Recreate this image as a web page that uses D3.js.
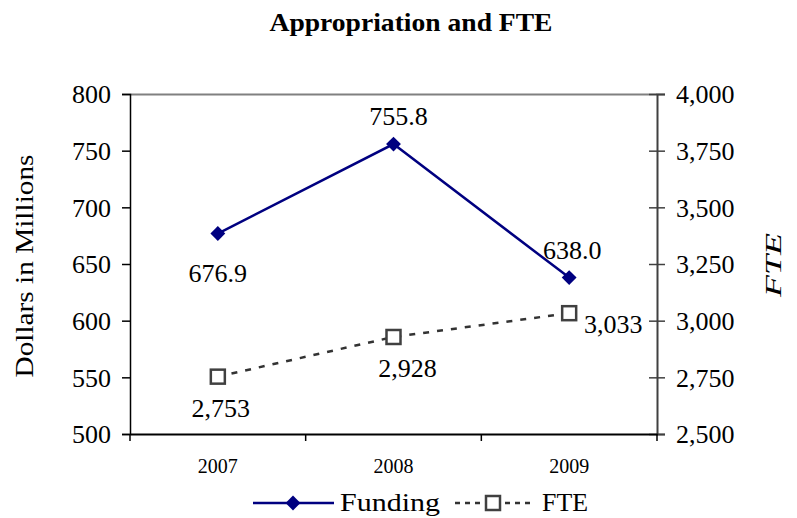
<!DOCTYPE html>
<html><head><meta charset="utf-8">
<script src="https://cdn.jsdelivr.net/npm/d3@7"></script>
<style>
body{margin:0;background:#fff;}
svg{display:block;font-family:"Liberation Serif","Times New Roman",serif;}
</style></head>
<body>
<svg id="c" width="797" height="518"></svg>
<script>
const years = ["2007","2008","2009"];
const funding = [676.9, 755.8, 638.0];
const fte = [2753, 2928, 3033];
const fundingLabels = ["676.9","755.8","638.0"];
const fteLabels = ["2,753","2,928","3,033"];
const leftTicks = [500,550,600,650,700,750,800];
const rightTicks = [2500,2750,3000,3250,3500,3750,4000];

const svg = d3.select("#c");
const L=130,R=657,T=94,B=434;
const x = d3.scaleBand().domain(years).range([L,R]);
const yL = d3.scaleLinear().domain([500,800]).range([B,T]);
const yR = d3.scaleLinear().domain([2500,4000]).range([B,T]);
const cx = d => x(d)+x.bandwidth()/2;

// title
svg.append("text").attr("x",411).attr("y",31).attr("text-anchor","middle")
  .attr("font-weight","bold").attr("font-size",25)
  .attr("textLength",283).attr("lengthAdjust","spacingAndGlyphs")
  .text("Appropriation and FTE");

// top border
svg.append("line").attr("x1",L).attr("x2",R).attr("y1",T+0.5).attr("y2",T+0.5)
  .attr("stroke","#808080").attr("stroke-width",2);

// left axis
const gl = svg.append("g").attr("transform",`translate(${L},0)`)
  .call(d3.axisLeft(yL).tickValues(leftTicks).tickSize(8).tickPadding(11).tickFormat(d3.format("d")));
gl.select(".domain").attr("stroke","#000").attr("stroke-width",1.5);
gl.selectAll(".tick line").attr("stroke","#000").attr("stroke-width",1.5);
gl.selectAll(".tick text").attr("font-size",26).attr("font-family","Liberation Serif").attr("fill","#000").attr("dy","0.34em");

// right axis
const gr = svg.append("g").attr("transform",`translate(${R},0)`)
  .call(d3.axisRight(yR).tickValues(rightTicks).tickSize(8).tickPadding(11).tickFormat(d3.format(",")));
gr.select(".domain").attr("stroke","#404040").attr("stroke-width",2);
gr.selectAll(".tick line").attr("stroke","#404040").attr("stroke-width",1.5).attr("x1",-8);
gr.selectAll(".tick text").attr("font-size",26).attr("font-family","Liberation Serif").attr("fill","#000").attr("dy","0.34em");

// bottom axis
const gb = svg.append("g").attr("transform",`translate(0,${B})`)
  .call(d3.axisBottom(x).tickSize(0).tickPadding(25));
gb.select(".domain").attr("stroke","#000").attr("stroke-width",2);
gb.selectAll(".tick text").attr("font-size",20).attr("font-family","Liberation Serif").attr("fill","#000");
const bounds = years.map(d=>x(d)).concat([R]);
svg.append("g").selectAll("line").data(bounds).join("line")
  .attr("x1",d=>d).attr("x2",d=>d).attr("y1",B).attr("y2",B+7)
  .attr("stroke","#000").attr("stroke-width",1.5);

// axis titles
svg.append("text").attr("transform","translate(33,266) rotate(-90)").attr("text-anchor","middle")
  .attr("font-size",26).attr("textLength",223).attr("lengthAdjust","spacingAndGlyphs")
  .text("Dollars in Millions");
svg.append("text").attr("transform","translate(781,265) rotate(-90)").attr("text-anchor","middle")
  .attr("font-size",24).attr("font-style","italic").attr("textLength",64).attr("lengthAdjust","spacingAndGlyphs")
  .text("FTE");

// FTE line
svg.append("path").datum(fte.map((v,i)=>[cx(years[i]),yR(v)]))
  .attr("d",d3.line()).attr("fill","none").attr("stroke","#333")
  .attr("stroke-width",2.5).attr("stroke-dasharray","6,8");
svg.append("g").selectAll("rect").data(fte).join("rect")
  .attr("x",(d,i)=>cx(years[i])-7).attr("y",d=>yR(d)-7).attr("width",14).attr("height",14)
  .attr("fill","#fff").attr("stroke","#404040").attr("stroke-width",2.5);

// Funding line
svg.append("path").datum(funding.map((v,i)=>[cx(years[i]),yL(v)]))
  .attr("d",d3.line()).attr("fill","none").attr("stroke","#000080").attr("stroke-width",2.5);
svg.append("g").selectAll("path").data(funding).join("path")
  .attr("transform",(d,i)=>`translate(${cx(years[i])},${yL(d)}) rotate(45)`)
  .attr("d",d3.symbol().type(d3.symbolSquare).size(110)).attr("fill","#000080");

// data labels
const fOff = [[0,48],[5,-19],[3,-19]];
svg.append("g").selectAll("text").data(funding).join("text")
  .attr("x",(d,i)=>cx(years[i])+fOff[i][0]).attr("y",(d,i)=>yL(d)+fOff[i][1])
  .attr("text-anchor","middle").attr("font-size",26).text((d,i)=>fundingLabels[i]);
const tOff = [[3,40],[14,40],[44,20]];
svg.append("g").selectAll("text").data(fte).join("text")
  .attr("x",(d,i)=>cx(years[i])+tOff[i][0]).attr("y",(d,i)=>yR(d)+tOff[i][1])
  .attr("text-anchor","middle").attr("font-size",26).text((d,i)=>fteLabels[i]);

// legend
const lg = svg.append("g");
lg.append("line").attr("x1",253).attr("x2",334).attr("y1",503).attr("y2",503)
  .attr("stroke","#000080").attr("stroke-width",2.5);
lg.append("path").attr("transform","translate(293,503) rotate(45)")
  .attr("d",d3.symbol().type(d3.symbolSquare).size(110)).attr("fill","#000080");
lg.append("text").attr("x",340).attr("y",511).attr("font-size",25)
  .attr("textLength",100).attr("lengthAdjust","spacingAndGlyphs").text("Funding");
lg.append("line").attr("x1",455).attr("x2",535).attr("y1",503).attr("y2",503)
  .attr("stroke","#333").attr("stroke-width",2.5).attr("stroke-dasharray","5,5");
lg.append("rect").attr("x",486).attr("y",496).attr("width",14).attr("height",14)
  .attr("fill","#fff").attr("stroke","#404040").attr("stroke-width",2.5);
lg.append("text").attr("x",542).attr("y",511).attr("font-size",25)
  .attr("textLength",46).attr("lengthAdjust","spacingAndGlyphs").text("FTE");
</script>
</body></html>
